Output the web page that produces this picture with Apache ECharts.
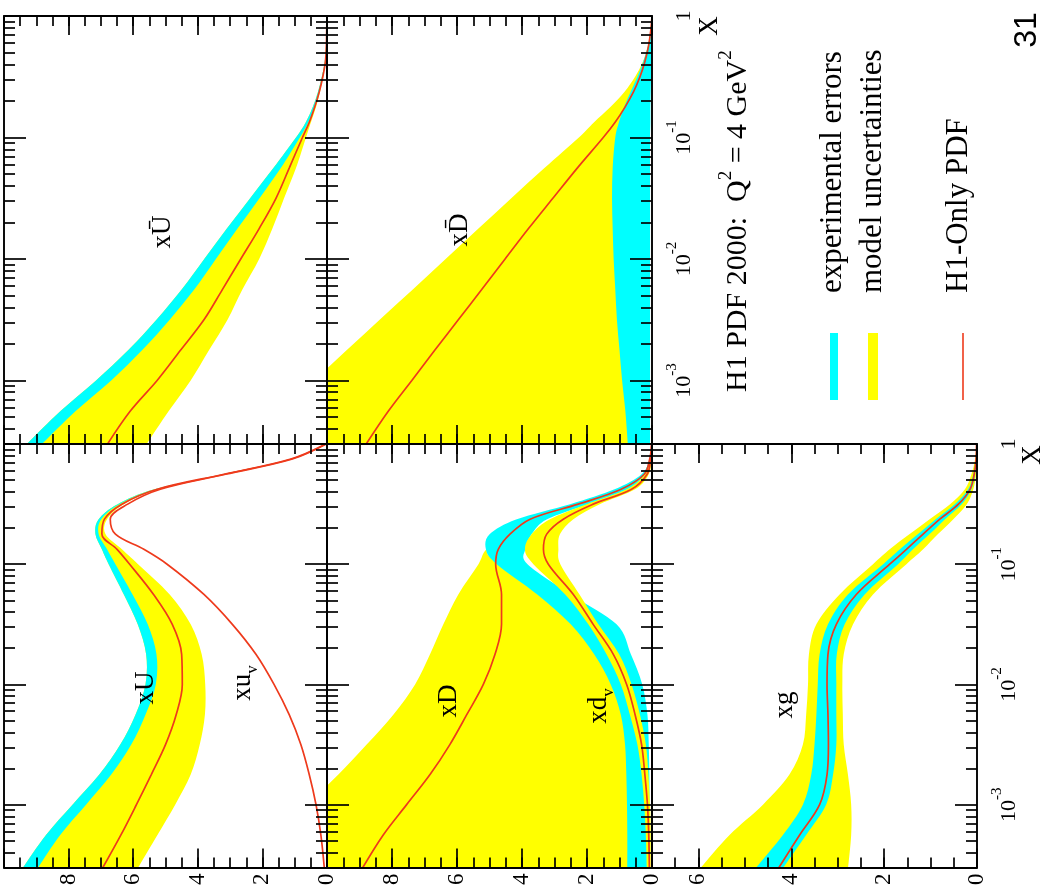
<!DOCTYPE html>
<html><head><meta charset="utf-8">
<script src="https://cdn.jsdelivr.net/npm/echarts@6/dist/echarts.min.js"></script>
<style>html,body{margin:0;padding:0;background:#fff}#c{width:1045px;height:888px}</style>
</head><body><div id="c"></div>
<script>
// ---- sample x positions (Bjorken x) ----
const X = [0.00029, 0.00056, 0.001, 0.00178, 0.00316, 0.0056, 0.01, 0.0178, 0.0316, 0.056, 0.1, 0.133, 0.178, 0.237, 0.316, 0.42, 0.56, 0.75, 1.0];

// ---- xUbar panel ----
const ubarRed   = [6.83, 6.09, 5.26, 4.53, 3.81, 3.24, 2.67, 2.10, 1.58, 1.17, 0.76, 0.55, 0.38, 0.24, 0.13, 0.05, 0.02, 0.01, 0.0];
const ubarExpHi = [9.35, 8.25, 7.15, 6.15, 5.28, 4.50, 3.80, 3.10, 2.38, 1.66, 0.96, 0.66, 0.44, 0.28, 0.16, 0.07, 0.03, 0.01, 0.0];
const ubarExpLo = [8.88, 7.78, 6.68, 5.72, 4.87, 4.11, 3.44, 2.77, 2.09, 1.43, 0.84, 0.58, 0.39, 0.25, 0.14, 0.06, 0.025, 0.01, 0.0];
const ubarModLo = [5.62, 4.90, 4.22, 3.65, 3.08, 2.62, 2.10, 1.69, 1.33, 0.96, 0.65, 0.50, 0.34, 0.22, 0.12, 0.05, 0.02, 0.0, 0.0];

// ---- xDbar panel ----
const dbarRed   = [8.83, 8.11, 7.39, 6.68, 5.96, 5.24, 4.52, 3.80, 3.05, 2.30, 1.50, 1.14, 0.83, 0.57, 0.37, 0.22, 0.11, 0.04, 0.0];
const dbarModHi = [12.4, 11.4, 10.4, 9.39, 8.38, 7.36, 6.35, 5.34, 4.33, 3.31, 2.25, 1.79, 1.28, 0.85, 0.52, 0.28, 0.13, 0.05, 0.01];
const dbarModLo = [0.70, 0.78, 0.88, 0.96, 1.04, 1.09, 1.14, 1.17, 1.19, 1.17, 1.09, 0.98, 0.83, 0.63, 0.42, 0.25, 0.11, 0.04, 0.0];
const dbarExpHi = [0.74, 0.82, 0.92, 1.00, 1.08, 1.13, 1.18, 1.21, 1.23, 1.21, 1.13, 1.02, 0.86, 0.66, 0.45, 0.27, 0.13, 0.05, 0.0];
const dbarExpLo = [0.06, 0.06, 0.06, 0.06, 0.06, 0.06, 0.06, 0.06, 0.06, 0.06, 0.06, 0.05, 0.05, 0.04, 0.03, 0.02, 0.01, 0.0, 0.0];

// ---- xU / xu_v panel ----
const uRed   = [6.97, 6.38, 5.90, 5.44, 5.00, 4.67, 4.48, 4.50, 4.79, 5.37, 6.11, 6.50, 6.97, 6.89, 6.35, 5.26, 3.19, 1.12, 0.03];
const uExpHi = [9.45, 8.70, 7.88, 7.05, 6.40, 5.93, 5.62, 5.60, 5.86, 6.29, 6.76, 6.97, 7.17, 7.07, 6.48, 5.34, 3.23, 1.13, 0.03];
const uExpLo = [8.98, 8.26, 7.46, 6.68, 6.06, 5.62, 5.30, 5.28, 5.55, 6.02, 6.55, 6.81, 7.07, 6.99, 6.42, 5.30, 3.21, 1.11, 0.03];
const uModLo = [5.88, 5.25, 4.70, 4.22, 3.94, 3.78, 3.77, 3.88, 4.22, 4.87, 5.85, 6.35, 6.86, 6.81, 6.29, 5.22, 3.17, 1.10, 0.02];
const uvRed  = [0.08, 0.19, 0.34, 0.55, 0.81, 1.17, 1.64, 2.20, 2.93, 3.81, 4.95, 5.67, 6.55, 6.71, 6.17, 5.16, 3.14, 1.07, 0.03];

// ---- xD / xd_v panel ----
const dRed   = [8.93, 8.27, 7.55, 6.83, 6.22, 5.70, 5.19, 4.83, 4.63, 4.63, 4.81, 4.73, 4.37, 3.75, 2.27, 0.95, 0.24, 0.07, 0.01];
const dModHi = [12.5, 11.5, 10.6, 9.65, 8.78, 7.96, 7.29, 6.83, 6.42, 5.96, 5.34, 5.09, 4.37, 3.75, 2.27, 0.95, 0.24, 0.07, 0.01];
const dModLo = [0.73, 0.73, 0.74, 0.76, 0.80, 0.93, 1.24, 1.75, 2.47, 3.50, 4.73, 5.07, 4.37, 3.75, 2.27, 0.95, 0.24, 0.07, 0.01];
const dExpHi = [0.76, 0.76, 0.77, 0.79, 0.83, 0.96, 1.27, 1.78, 2.50, 3.53, 4.78, 5.11, 4.99, 4.16, 2.52, 1.15, 0.32, 0.08, 0.01];
const dExpLo = [0.08, 0.08, 0.08, 0.08, 0.10, 0.14, 0.30, 0.65, 1.09, 2.50, 3.83, 3.90, 3.70, 3.23, 1.96, 0.75, 0.16, 0.01, 0.0];
const dvRed   = [0.08, 0.10, 0.14, 0.22, 0.32, 0.52, 0.78, 1.19, 1.81, 2.42, 3.19, 3.34, 3.24, 2.73, 1.81, 0.63, 0.15, 0.04, 0.01];
const dvModHi = [0.16, 0.19, 0.24, 0.32, 0.45, 0.68, 0.96, 1.40, 1.96, 2.67, 3.65, 3.91, 3.70, 3.14, 2.01, 0.78, 0.22, 0.06, 0.01];
const dvModLo = [0.04, 0.04, 0.06, 0.11, 0.19, 0.37, 0.63, 1.01, 1.65, 2.23, 2.82, 2.88, 2.83, 2.42, 1.61, 0.52, 0.10, 0.02, 0.0];

// ---- xg panel ----
const gRed   = [4.29, 3.82, 3.39, 3.23, 3.20, 3.21, 3.23, 3.21, 3.03, 2.60, 1.88, 1.52, 1.16, 0.80, 0.40, 0.15, 0.06, 0.02, 0.01];
const gModHi = [5.98, 5.33, 4.61, 4.04, 3.75, 3.68, 3.64, 3.62, 3.46, 2.96, 2.24, 1.88, 1.45, 1.02, 0.58, 0.26, 0.12, 0.04, 0.01];
const gModLo = [2.78, 2.71, 2.71, 2.78, 2.87, 2.89, 2.90, 2.87, 2.67, 2.24, 1.52, 1.16, 0.84, 0.51, 0.22, 0.08, 0.02, 0.01, 0.0];
const gExpHi = [4.79, 4.18, 3.75, 3.57, 3.50, 3.46, 3.43, 3.39, 3.21, 2.78, 2.02, 1.66, 1.27, 0.89, 0.48, 0.19, 0.08, 0.03, 0.01];
const gExpLo = [4.20, 3.68, 3.25, 3.10, 3.03, 3.03, 3.03, 3.02, 2.85, 2.42, 1.70, 1.38, 1.02, 0.69, 0.33, 0.12, 0.04, 0.01, 0.0];

// ---- ticks ----
const xAxisMin = 3e-4;
const xMajorTicks = [0.001, 0.01, 0.1, 1];
const xMinorMultipliers = [2, 3, 4, 5, 6, 7, 8, 9];
const valueTickLabels = [0, 2, 4, 6, 8];
const valueMajorStep = 2, valueMinorStep = 0.5;

const LOGMIN = Math.log10(xAxisMin);
const xMinorTicks = [];
[1e-4, 1e-3, 1e-2, 1e-1].forEach(d => xMinorMultipliers.forEach(k => { const v = k * d; if (Math.log10(v) >= LOGMIN - 1e-9) xMinorTicks.push(v); }));

const FONT = 'Liberation Serif';
const CYAN = '#00ffff', YELLOW = '#ffff00', RED = '#ee3a1c';

const panels = [
  { left: 4,   top: 16,  width: 323, height: 428, vmax: 10, valLabels: false, logLabels: false },
  { left: 327, top: 16,  width: 325, height: 428, vmax: 10, valLabels: false, logLabels: true },
  { left: 4,   top: 444, width: 323, height: 428, vmax: 10, valLabels: true,  logLabels: false },
  { left: 327, top: 444, width: 325, height: 428, vmax: 10, valLabels: true,  logLabels: false },
  { left: 652, top: 444, width: 325, height: 428, vmax: 7,  valLabels: true,  logLabels: true }
];

const grids = [], xAxes = [], yAxes = [];
panels.forEach((p, gi) => {
  grids.push({ left: p.left, top: p.top, width: p.width, height: p.height, containLabel: false, show: false });
  const tickStyle = { color: '#000', width: 1.7 };
  const lineOn = { show: true, onZero: false, lineStyle: { color: '#000', width: 1.9 } };
  const lineOff = { show: false, onZero: false };
  ['bottom', 'top'].forEach(pos => {
    xAxes.push({
      type: 'value', gridIndex: gi, position: pos, min: 0, max: p.vmax, interval: valueMajorStep, inverse: true, z: 10,
      axisLine: lineOn, splitLine: { show: false },
      axisTick: { show: true, inside: true, length: 19, lineStyle: tickStyle },
      axisLabel: (p.valLabels && pos === 'bottom') ? {
        show: true, rotate: 90, margin: 6, fontSize: 23, fontFamily: FONT, color: '#000',
        formatter: v => valueTickLabels.includes(v) ? String(v) : ''
      } : { show: false }
    });
    xAxes.push({
      type: 'value', gridIndex: gi, position: pos, min: 0, max: p.vmax, interval: valueMinorStep, inverse: true, z: 10,
      axisLine: lineOff, splitLine: { show: false },
      axisTick: { show: true, inside: true, length: 10, lineStyle: tickStyle },
      axisLabel: { show: false }
    });
  });
  ['left', 'right'].forEach(pos => {
    yAxes.push({
      type: 'value', gridIndex: gi, position: pos, min: LOGMIN, max: 0, z: 10,
      axisLine: lineOn, splitLine: { show: false },
      axisTick: { show: true, inside: true, length: 22, lineStyle: tickStyle, customValues: xMajorTicks.map(Math.log10) },
      axisLabel: (p.logLabels && pos === 'right') ? {
        show: true, rotate: 90, margin: 13, color: '#000', fontFamily: FONT, fontSize: 22,
        customValues: xMajorTicks.map(Math.log10),
        formatter: v => Math.abs(v) < 1e-9 ? '{b|1}' : '{b|10}{s|' + Math.round(v) + '}',
        rich: {
          b: { fontSize: 22, fontFamily: FONT, color: '#000', lineHeight: 30, verticalAlign: 'bottom' },
          s: { fontSize: 15, fontFamily: FONT, color: '#000', lineHeight: 16, verticalAlign: 'top' }
        }
      } : { show: false }
    });
    yAxes.push({
      type: 'value', gridIndex: gi, position: pos, min: LOGMIN, max: 0, z: 10,
      axisLine: lineOff, splitLine: { show: false },
      axisTick: { show: true, inside: true, length: 11, lineStyle: tickStyle, customValues: xMinorTicks.map(Math.log10) },
      axisLabel: { show: false }
    });
  });
});

function smoothD(p, move) {
  let d = move ? 'M' + p[0][0] + ',' + p[0][1] : '';
  for (let i = 0; i < p.length - 1; i++) {
    const p0 = p[i - 1] || p[i], p1 = p[i], p2 = p[i + 1], p3 = p[i + 2] || p[i + 1];
    const c1x = p1[0] + (p2[0] - p0[0]) / 6, c1y = p1[1] + (p2[1] - p0[1]) / 6;
    const c2x = p2[0] - (p3[0] - p1[0]) / 6, c2y = p2[1] - (p3[1] - p1[1]) / 6;
    d += ' C' + c1x + ',' + c1y + ' ' + c2x + ',' + c2y + ' ' + p2[0] + ',' + p2[1];
  }
  return d;
}

const series = [];
function band(gi, lo, hi, color) {
  series.push({
    type: 'custom', xAxisIndex: gi * 4, yAxisIndex: gi * 4, clip: true, silent: true, z: 2,
    data: [[0, LOGMIN]],
    renderItem: (params, api) => {
      const up = X.map((x, i) => api.coord([hi[i], Math.log10(x)]));
      const dn = X.map((x, i) => api.coord([lo[i], Math.log10(x)])).reverse();
      const d = smoothD(up, true) + ' L' + dn[0][0] + ',' + dn[0][1] + smoothD(dn, false) + ' Z';
      return { type: 'path', shape: { pathData: d }, style: { fill: color, stroke: null } };
    }
  });
}
function curve(gi, vals) {
  series.push({
    type: 'line', xAxisIndex: gi * 4, yAxisIndex: gi * 4, data: X.map((x, i) => [vals[i], Math.log10(x)]),
    smooth: 0.35, symbol: 'none', showSymbol: false, silent: true, z: 3,
    lineStyle: { color: RED, width: 1.7 }
  });
}

// xUbar
band(0, ubarModLo, ubarExpHi, YELLOW); band(0, ubarExpLo, ubarExpHi, CYAN); curve(0, ubarRed);
// xDbar
band(1, dbarModLo, dbarModHi, YELLOW); band(1, dbarExpLo, dbarExpHi, CYAN); curve(1, dbarRed);
// xU, xu_v
band(2, uModLo, uExpHi, YELLOW); band(2, uExpLo, uExpHi, CYAN); curve(2, uRed); curve(2, uvRed);
// xD, xd_v
band(3, dModLo, dModHi, YELLOW); band(3, dExpLo, dExpHi, CYAN); band(3, dvModLo, dvModHi, YELLOW); curve(3, dRed); curve(3, dvRed);
// xg
band(4, gModLo, gModHi, YELLOW); band(4, gExpLo, gExpHi, CYAN); curve(4, gRed);

function vt(x, y, text, size, align, rich, family) {
  return {
    type: 'text', x: x, y: y, rotation: Math.PI / 2, z: 20,
    style: { text: text, fontSize: size, fontFamily: family || FONT, fill: '#000', align: align, verticalAlign: 'middle', rich: rich }
  };
}
const subRich = { n: { fontSize: 27, fontFamily: FONT, lineHeight: 32, verticalAlign: 'top' }, v: { fontSize: 17, fontFamily: FONT, lineHeight: 32, verticalAlign: 'bottom' } };
const titleRich = { n: { fontSize: 30, fontFamily: FONT, lineHeight: 36, verticalAlign: 'bottom' }, s: { fontSize: 19, fontFamily: FONT, lineHeight: 20, verticalAlign: 'top' } };

const graphic = [
  vt(163, 232, 'x\u016A', 27, 'center'),
  vt(460, 230, 'xD\u0304', 27, 'center'),
  vt(146, 688, 'xU', 27, 'center'),
  vt(245, 683, '{n|xu}{v|v}', 27, 'center', subRich),
  vt(449, 701, 'xD', 27, 'center'),
  vt(601, 706, '{n|xd}{v|v}', 27, 'center', subRich),
  vt(785, 705, 'xg', 27, 'center'),
  vt(735, 392, '{n|H1 PDF 2000:  Q}{s|2}{n| = 4 GeV}{s|2}', 30, 'left', titleRich),
  vt(833, 293, 'experimental errors', 31, 'left'),
  vt(873, 293, 'model uncertainties', 31, 'left'),
  vt(959, 293, 'H1-Only PDF', 31, 'left'),
  vt(710, 26, 'X', 27, 'center'),
  vt(1033, 455, 'X', 27, 'center'),
  vt(1027, 30, '31', 32, 'center', null, 'Liberation Sans'),
  { type: 'rect', shape: { x: 830, y: 333, width: 8, height: 67 }, style: { fill: CYAN }, z: 20 },
  { type: 'rect', shape: { x: 868, y: 333, width: 10, height: 67 }, style: { fill: YELLOW }, z: 20 },
  { type: 'line', shape: { x1: 963, y1: 333, x2: 963, y2: 400 }, style: { stroke: RED, lineWidth: 1.6 }, z: 20 }
];

const chart = echarts.init(document.getElementById('c'), null, { renderer: 'canvas' });
chart.setOption({
  backgroundColor: '#fff',
  animation: false,
  grid: grids, xAxis: xAxes, yAxis: yAxes, series: series, graphic: graphic
});
</script></body></html>
